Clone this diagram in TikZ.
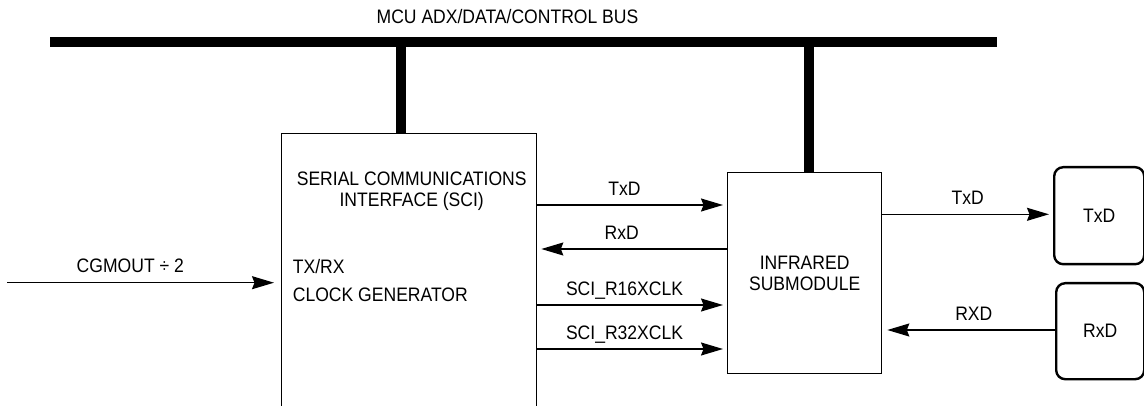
\documentclass[tikz,border=0pt]{standalone}
\usepackage{fontspec}
\setmainfont{Liberation Sans}[FakeStretch=0.9]
\usetikzlibrary{arrows.meta,positioning}
\tikzset{
  >={Stealth[length=22pt,width=13pt,inset=2.5pt]},
  every node/.style={font=\fontsize{19.5}{21}\selectfont,inner sep=0pt},
  block/.style={draw,line width=1.3pt,anchor=north west},
  pinbox/.style={draw,line width=2.4pt,rounded corners=9pt,anchor=north west},
  sig/.style={->,line width=1.4pt},
  busline/.style={line width=10.5pt},
  stub/.style={line width=10pt},
  lbl/.style={above=9pt,text depth=0pt}
}
\begin{document}
\begin{tikzpicture}[x=1pt,y=-1pt]
  \useasboundingbox (0,0) rectangle (1144,406);

  % bus
  \coordinate (busw) at (50,42);
  \coordinate (buse) at (997,42);
  \draw[busline] (busw) -- (buse);
  \node (buslbl) at (507.5,17) {MCU ADX/DATA/CONTROL BUS};

  % blocks
  \node[block,minimum width=255pt,minimum height=290pt] (sci) at (281,133) {};
  \node[align=center] (scitxt) at (411.7,191) {SERIAL COMMUNICATIONS\\INTERFACE (SCI)};
  \node[anchor=west] (txrx) at (292.7,266.7) {TX/RX};
  \node[anchor=west] (clkgen) at (292.7,295) {CLOCK GENERATOR};
  \node[block,minimum width=154pt,minimum height=201pt,align=center] (irsub) at (727,172) {INFRARED\\SUBMODULE};
  \node[pinbox,minimum width=90pt,minimum height=97pt] (txpin) at (1053,166) {TxD};
  \node[pinbox,minimum width=88pt,minimum height=96pt] (rxpin) at (1055,282) {RxD};

  % bus taps
  \coordinate (scitap) at (401,42);
  \coordinate (irtap) at (809,42);
  \draw[stub] (scitap) -- (scitap |- sci.north);
  \draw[stub] (irtap) -- (irtap |- irsub.north);

  % signal rows
  \coordinate (cgin) at (7,282.7);
  \coordinate (ytx) at (0,205);
  \coordinate (yrx) at (0,249);
  \coordinate (ytxo) at (0,214.3);
  \coordinate (yrxo) at (0,330);

  \draw[sig,shorten >=7pt] (cgin) -- (cgin -| sci.west) node[lbl,pos=0.45] {CGMOUT ÷ 2};
  \draw[sig,shorten >=4pt] (sci.east |- ytx) -- (irsub.west |- ytx) node[lbl,pos=0.46] {TxD};
  \draw[sig,shorten >=4pt] (irsub.west |- yrx) -- (sci.east |- yrx) node[lbl,pos=0.555] {RxD};
  \foreach \y/\t in {305/SCI\_R16XCLK,349/SCI\_R32XCLK} {
    \draw[sig,shorten >=4pt] (sci.east |- 0,\y) -- (irsub.west |- 0,\y) node[lbl,pos=0.46] {\t};
  }
  \draw[sig,shorten >=4pt] (irsub.east |- ytxo) -- (txpin.west |- ytxo) node[lbl,pos=0.5] {TxD};
  \draw[sig,shorten >=5pt] (rxpin.west |- yrxo) -- (irsub.east |- yrxo) node[lbl,pos=0.47] {RXD};
\end{tikzpicture}
\end{document}
